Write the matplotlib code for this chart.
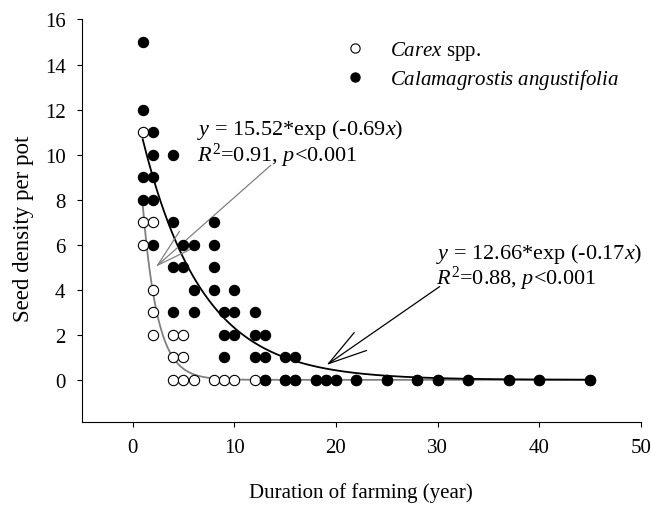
import numpy as np
import matplotlib
matplotlib.use("Agg")
import matplotlib.pyplot as plt

plt.rcParams['font.family'] = ['Liberation Serif', 'DejaVu Serif']
plt.rcParams['mathtext.fontset'] = 'custom'
plt.rcParams['mathtext.rm'] = 'Liberation Serif'
plt.rcParams['mathtext.it'] = 'Liberation Serif:italic'

# ---- data ----
carex_years = [1, 1, 1, 2, 2, 2, 2, 4, 4, 4, 5, 5, 5, 6, 8, 9, 10, 12,
               13, 15, 16, 18, 19, 20, 22, 25, 28, 30, 33, 37, 40, 45]
carex_density = [11, 7, 6, 7, 4, 3, 2, 2, 1, 0, 2, 1, 0, 0, 0, 0, 0, 0,
                 0, 0, 0, 0, 0, 0, 0, 0, 0, 0, 0, 0, 0, 0]

calam_years = [1, 1, 1, 1, 2, 2, 2, 2, 2, 4, 4, 4, 4, 5, 5, 6, 6, 6,
               8, 8, 8, 8, 9, 9, 9, 10, 10, 10, 12, 12, 12, 13, 13, 13,
               15, 15, 16, 16, 18, 19, 20, 22, 25, 28, 30, 33, 37, 40, 45]
calam_density = [15, 12, 9, 8, 11, 10, 9, 8, 6, 10, 7, 5, 3, 6, 5, 6, 4, 3,
                 7, 6, 5, 4, 3, 2, 1, 4, 3, 2, 3, 2, 1, 2, 1, 0,
                 1, 0, 1, 0, 0, 0, 0, 0, 0, 0, 0, 0, 0, 0, 0]

# fitted models: y = a * exp(b * x)
carex_a, carex_b = 15.52, -0.69
calam_a, calam_b = 12.66, -0.17
fit_range = (1, 45)

x_ticks = [0, 10, 20, 30, 40, 50]
y_ticks = [0, 2, 4, 6, 8, 10, 12, 14, 16]

# ---- figure ----
fig = plt.figure(figsize=(6.51, 5.06), dpi=100)
ax = fig.add_axes([0.1255, 0.165, 0.8591, 0.7945])

xf = np.linspace(fit_range[0], fit_range[1], 500)
ax.plot(xf, carex_a * np.exp(carex_b * xf), color='#808080', lw=1.3, zorder=2)
ax.plot(xf, calam_a * np.exp(calam_b * xf), color='black', lw=1.3, zorder=2)

ax.plot(carex_years, carex_density, 'o', ms=7.4, mfc='white', mec='black',
        mew=0.8, ls='none', zorder=3, label=r'$\mathit{Carex}$ spp.')
ax.plot(calam_years, calam_density, 'o', ms=7.4, mfc='black', mec='black',
        mew=0.8, ls='none', zorder=4,
        label=r'$\mathit{Calamagrostis\ angustifolia}$')

ax.set_xlim(-5, 50)
ax.set_ylim(-1.85, 16)
ax.set_xticks(x_ticks)
ax.set_yticks(y_ticks)
ax.tick_params(direction='out', length=3.6, width=0.8, labelsize=15, pad=8)
for s in ['top', 'right']:
    ax.spines[s].set_visible(False)
for s in ['left', 'bottom']:
    ax.spines[s].set_linewidth(0.8)

ax.set_xlabel('Duration of farming (year)', fontsize=15, labelpad=18)
ax.set_ylabel('Seed density per pot', fontsize=16.5)
ax.yaxis.set_label_coords(-0.086, 0.483)

leg = ax.legend(loc='upper left', bbox_to_anchor=(0.470, 0.9515), frameon=False,
                fontsize=15, handlelength=1.0, handletextpad=1.2,
                labelspacing=0.25, borderpad=0, borderaxespad=0, markerscale=0.9)

# equations + arrows
eq_fs = 16
ax.text(6.3, 10.93, r'$y$ = 15.52*exp (-0.69$x$)', fontsize=eq_fs, va='baseline')
ax.text(6.3, 9.73, r'$R^2$=0.91, $p$<0.001', fontsize=eq_fs, va='baseline')
ax.annotate('', xy=(2.29, 5.02), xytext=(13.6, 9.53),
            arrowprops=dict(arrowstyle='->,head_length=1.0,head_width=0.28',
                            color='#808080', lw=0.9, mutation_scale=28,
                            shrinkA=0, shrinkB=0))

ax.text(29.8, 5.43, r'$y$ = 12.66*exp (-0.17$x$)', fontsize=eq_fs, va='baseline')
ax.text(29.8, 4.28, r'$R^2$=0.88, $p$<0.001', fontsize=eq_fs, va='baseline')
ax.annotate('', xy=(19.08, 0.66), xytext=(30.2, 4.14),
            arrowprops=dict(arrowstyle='->,head_length=1.0,head_width=0.28',
                            color='black', lw=0.9, mutation_scale=28,
                            shrinkA=0, shrinkB=0))

fig.savefig('out.png', dpi=100)
